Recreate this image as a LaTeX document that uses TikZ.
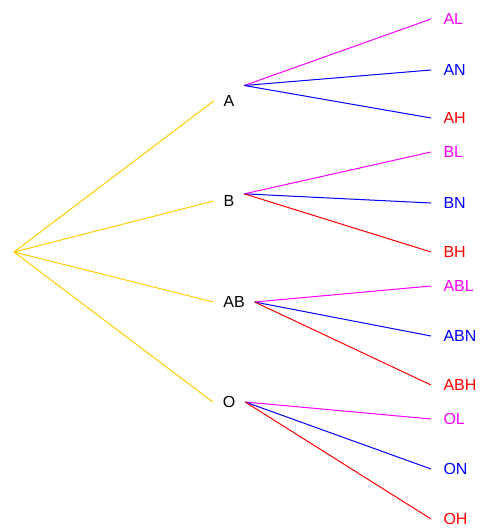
\documentclass[tikz,border=0pt]{standalone}
\usepackage{fontspec}
\setmainfont{Liberation Sans}
\usepackage{xcolor}
\usepackage{tikz}
\definecolor{treeyellow}{RGB}{255,204,0}
\definecolor{treemagenta}{RGB}{255,0,255}
\definecolor{treeblue}{RGB}{0,0,255}
\definecolor{treered}{RGB}{255,0,0}

\begin{document}
\begin{tikzpicture}[x=1pt,y=1pt,line width=1pt,
    group/.style={inner sep=9.5pt, font=\fontsize{16}{18}\selectfont},
    outcome/.style={anchor=west, inner xsep=12pt, inner ysep=0pt, font=\fontsize{16}{18}\selectfont},
    Lcol/.style={treemagenta},
    Ncol/.style={treeblue},
    Hcol/.style={treered}]
    \useasboundingbox (0,0) rectangle (486,-530);
    \coordinate (root) at (14,-252);
    % blood groups
    \node[group] (A) at (229,-101) {A};
    \node[group] (B) at (229,-201) {B};
    \node[group] (AB) at (234,-302) {AB};
    \node[group] (O) at (229,-402) {O};
    % outcomes
    \node[outcome,Lcol] (AL) at (431,-19) {AL};
    \node[outcome,Ncol] (AN) at (431,-70) {AN};
    \node[outcome,Hcol] (AH) at (431,-118) {AH};
    \node[outcome,Lcol] (BL) at (431,-152) {BL};
    \node[outcome,Ncol] (BN) at (431,-203) {BN};
    \node[outcome,Hcol] (BH) at (431,-252) {BH};
    \node[outcome,Lcol] (ABL) at (431,-286) {ABL};
    \node[outcome,Ncol] (ABN) at (431,-336) {ABN};
    \node[outcome,Hcol] (ABH) at (431,-385) {ABH};
    \node[outcome,Lcol] (OL) at (431,-419) {OL};
    \node[outcome,Ncol] (ON) at (431,-469) {ON};
    \node[outcome,Hcol] (OH) at (431,-519) {OH};
    % branches
    \draw[treeyellow] (root) -- (A.west);
    \draw[treeyellow] (root) -- (B.west);
    \draw[treeyellow] (root) -- (AB.west);
    \draw[treeyellow] (root) -- (O.west);
    \draw[Lcol] (A.north east) -- (AL.west);
    \draw[Ncol] (A.north east) -- (AN.west);
    \draw[Ncol] (A.north east) -- (AH.west);
    \draw[Lcol] (B.25) -- (BL.west);
    \draw[Ncol] (B.25) -- (BN.west);
    \draw[Hcol] (B.25) -- (BH.west);
    \draw[Lcol] (AB.east) -- (ABL.west);
    \draw[Ncol] (AB.east) -- (ABN.west);
    \draw[Hcol] (AB.east) -- (ABH.west);
    \draw[Lcol] (O.east) -- (OL.west);
    \draw[Ncol] (O.east) -- (ON.west);
    \draw[Hcol] (O.east) -- (OH.west);
\end{tikzpicture}
\end{document}
